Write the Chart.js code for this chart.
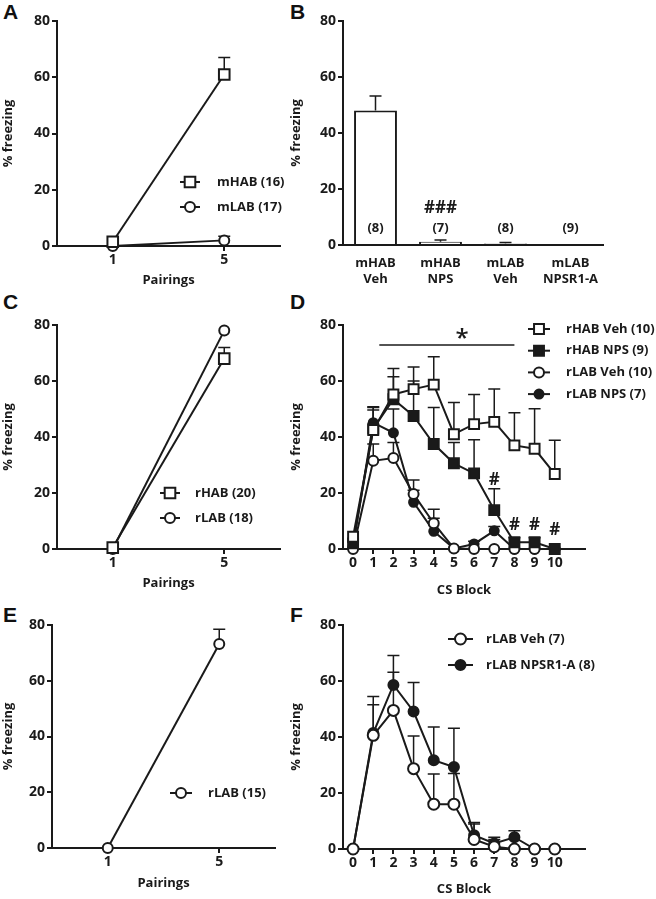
<!DOCTYPE html>
<html>
<head>
<meta charset="utf-8">
<script src="https://cdn.jsdelivr.net/npm/chart.js@4.4.0/dist/chart.umd.min.js"></script>
<style>
body { margin: 0; background: #fff; width: 656px; height: 899px; position: relative; overflow: hidden; }
canvas { position: absolute; }
.letter { position: absolute; font: bold 21px "Liberation Sans", Arial, sans-serif; line-height: 21px; color: #111; }
</style>
</head>
<body>
<div class="letter" style="left:3px;top:1px">A</div>
<div class="letter" style="left:290px;top:1px">B</div>
<div class="letter" style="left:3px;top:291px">C</div>
<div class="letter" style="left:290px;top:291px">D</div>
<div class="letter" style="left:3px;top:604px">E</div>
<div class="letter" style="left:290px;top:604px">F</div>

<canvas id="chartA" width="300" height="290" style="left:0;top:0"></canvas>
<canvas id="chartB" width="368" height="290" style="left:288px;top:0"></canvas>
<canvas id="chartC" width="300" height="310" style="left:0;top:290px"></canvas>
<canvas id="chartD" width="368" height="310" style="left:288px;top:290px"></canvas>
<canvas id="chartE" width="300" height="299" style="left:0;top:600px"></canvas>
<canvas id="chartF" width="368" height="299" style="left:288px;top:600px"></canvas>

<script>
// ---- data (mean % freezing, upper error = mean + SEM) ----
const pairings = [1, 5];
const csBlocks = [0, 1, 2, 3, 4, 5, 6, 7, 8, 9, 10];

// A: mice, conditioning
const aHab = [1.5, 61];
const aHabErr = [null, 67];
const aLab = [0, 2];
const aLabErr = [null, 3.5];

// B: mice, retrieval
const bGroups = [['mHAB', 'Veh'], ['mHAB', 'NPS'], ['mLAB', 'Veh'], ['mLAB', 'NPSR1-A']];
const bMeans = [48, 1.2, 0.5, 0];
const bErr = [53.2, 1.8, 0.9, null];
const bCounts = ['(8)', '(7)', '(8)', '(9)'];
const bSig = ['', '###', '', ''];

// C: rats, conditioning
const cHab = [0.5, 68];
const cHabErr = [null, 72];
const cLab = [0, 78];
const cLabErr = [null, null];

// D: rats, CS blocks
const dHabVeh = [4.4, 42.5, 55.2, 57.1, 58.7, 41, 44.6, 45.4, 37, 35.8, 26.8];
const dHabVehErr = [null, 50.8, 64.5, 65, 68.7, 52.3, 55.2, 57.1, 48.7, 50.1, 38.8];
const dHabNps = [2, 43, 53.5, 47.5, 37.5, 30.6, 27, 13.9, 2.4, 2.4, 0];
const dHabNpsErr = [null, 50.5, 61.5, 60, 50.5, 38, 39, 21.5, 4, 4, null];
const dLabVeh = [0, 31.5, 32.5, 19.6, 9.2, 0.2, 0, 0, 0, 0, 0];
const dLabVehErr = [null, 37.5, 38, 24.6, 14.2, null, null, null, null, null, null];
const dLabNps = [1, 45.1, 41.5, 16.7, 6.3, 0.2, 1.8, 6.5, 0, 0, 0];
const dLabNpsErr = [null, 49.6, 50, 21, 11, null, 2.8, 8, null, null, null];
const dHashBlocks = [7, 8, 9, 10];
const dHashY = [24.5, 8.6, 8.6, 6.8];

// E: rats, conditioning
const eLab = [0, 73.2];
const eLabErr = [null, 78.5];

// F: rats, CS blocks
const fVeh = [0, 40.6, 49.5, 28.7, 16, 16, 3.4, 0.8, 0, 0, 0];
const fVehErr = [null, 51.5, 63.1, 40.4, 26.8, 27, 8.9, 3.4, null, null, null];
const fAnt = [0, 41.4, 58.6, 49.1, 31.7, 29.3, 4.9, 2, 4.2, 0, 0];
const fAntErr = [null, 54.5, 69.1, 59.5, 43.6, 43.1, 9.5, 4.2, 6.5, null, null];

const INK = '#1a1a1a';
const FONT = '"Open Sans"';

// error bars: vertical line up to mean+SEM with a cap
const errorBars = {
  id: 'errorBars',
  beforeDatasetsDraw(chart) {
    const ctx = chart.ctx, ys = chart.scales.y;
    chart.data.datasets.forEach((ds, i) => {
      if (!ds.errUp) return;
      const meta = chart.getDatasetMeta(i);
      ctx.save();
      ctx.strokeStyle = INK;
      ctx.lineWidth = 1.5;
      meta.data.forEach((el, j) => {
        const up = ds.errUp[j];
        if (up == null) return;
        const top = ys.getPixelForValue(up);
        ctx.beginPath();
        ctx.moveTo(el.x, el.y);
        ctx.lineTo(el.x, top);
        ctx.moveTo(el.x - 6, top);
        ctx.lineTo(el.x + 6, top);
        ctx.stroke();
      });
      ctx.restore();
    });
  }
};

// in-plot legend: line + marker + label
const keyBox = {
  id: 'keyBox',
  afterDraw(chart, args, opts) {
    if (!opts || opts.x == null) return;
    const ctx = chart.ctx;
    ctx.save();
    chart.data.datasets.forEach((ds, i) => {
      const y = opts.y + i * opts.rowH;
      ctx.strokeStyle = INK;
      ctx.lineWidth = 2;
      ctx.beginPath();
      ctx.moveTo(opts.x, y);
      ctx.lineTo(opts.x + opts.lineLen, y);
      ctx.stroke();
      ctx.fillStyle = ds.pointBackgroundColor;
      Chart.helpers.drawPoint(ctx, { pointStyle: ds.pointStyle, radius: ds.pointRadius, borderWidth: 2, rotation: 0 },
        opts.x + opts.lineLen / 2, y);
      ctx.fillStyle = INK;
      ctx.font = 'bold 13px ' + FONT;
      ctx.textAlign = 'left';
      ctx.textBaseline = 'middle';
      ctx.fillText(ds.label, opts.x + opts.textOff, y);
    });
    ctx.restore();
  }
};

// text marks placed at data positions (n, significance)
const notes = {
  id: 'notes',
  afterDraw(chart, args, opts) {
    if (!opts || !opts.items) return;
    const ctx = chart.ctx, xs = chart.scales.x, ys = chart.scales.y;
    ctx.save();
    ctx.fillStyle = INK;
    ctx.strokeStyle = INK;
    ctx.textAlign = 'center';
    ctx.textBaseline = 'middle';
    opts.items.forEach(it => {
      if (!it.text) return;
      ctx.font = (it.weight || 'bold') + ' ' + (it.size || 13) + 'px ' + FONT;
      ctx.fillText(it.text, xs.getPixelForValue(it.x), ys.getPixelForValue(it.y));
    });
    if (opts.bar) {
      const b = opts.bar, yy = ys.getPixelForValue(b.y);
      ctx.lineWidth = 1.5;
      ctx.beginPath();
      ctx.moveTo(xs.getPixelForValue(b.x1), yy);
      ctx.lineTo(xs.getPixelForValue(b.x2), yy);
      ctx.stroke();
    }
    ctx.restore();
  }
};

function yAxis(width) {
  return {
    min: 0, max: 80,
    ticks: { stepSize: 20, color: INK, padding: 2, font: { family: FONT, size: 14, weight: 'bold' } },
    grid: { drawOnChartArea: false, drawTicks: true, tickLength: 5, color: INK, lineWidth: 2 },
    border: { color: INK, width: 2 },
    title: { display: true, text: '% freezing', color: INK, padding: { top: 0, bottom: 0 },
      font: { family: FONT, size: 13, weight: 'bold' } },
    afterFit(s) { s.width = width; }
  };
}

function xAxis(values, min, max, title, height, titlePad) {
  return {
    type: 'linear', min: min, max: max,
    afterBuildTicks(s) { s.ticks = values.map(v => ({ value: v })); },
    ticks: { color: INK, padding: 1, font: { family: FONT, size: 14, weight: 'bold' } },
    grid: { drawOnChartArea: false, drawTicks: true, tickLength: 5, color: INK, lineWidth: 2 },
    border: { color: INK, width: 2 },
    title: { display: true, text: title, color: INK, padding: { top: 0, bottom: titlePad },
      font: { family: FONT, size: 13, weight: 'bold' } },
    afterFit(s) { s.height = height; }
  };
}

function series(label, xs, ys, err, style, filled, radius) {
  return {
    label: label,
    data: xs.map((x, i) => ({ x: x, y: ys[i] })),
    errUp: err,
    borderColor: INK,
    borderWidth: 2,
    tension: 0,
    pointStyle: style,
    pointRadius: radius,
    pointBorderWidth: 2,
    pointBorderColor: INK,
    pointBackgroundColor: filled ? INK : '#fff',
    clip: false
  };
}

function baseOptions(pad, scales, plugins) {
  return {
    responsive: false,
    animation: false,
    layout: { padding: pad },
    scales: scales,
    plugins: Object.assign({ legend: { display: false }, tooltip: { enabled: false } }, plugins)
  };
}

const allPlugins = [errorBars, keyBox, notes];

// A
new Chart(document.getElementById('chartA'), {
  type: 'line',
  data: { datasets: [
    series('mHAB (16)', pairings, aHab, aHabErr, 'rect', false, 7.5),
    series('mLAB (17)', pairings, aLab, aLabErr, 'circle', false, 5)
  ] },
  options: baseOptions({ top: 21, right: 20, left: 0, bottom: 0 },
    { x: xAxis(pairings, -1, 7, 'Pairings', 44, 2), y: yAxis(57) },
    { keyBox: { x: 180, y: 182, lineLen: 20, textOff: 37, rowH: 25 } }),
  plugins: allPlugins
});

// B
new Chart(document.getElementById('chartB'), {
  type: 'bar',
  data: {
    labels: bGroups,
    datasets: [{
      data: bMeans, errUp: bErr,
      backgroundColor: '#fff', borderColor: INK, borderWidth: 2,
      barPercentage: 0.66, categoryPercentage: 1
    }]
  },
  options: baseOptions({ top: 21, right: 53, left: 0, bottom: 0 }, {
    x: {
      offset: true,
      ticks: { color: INK, padding: 10, font: { family: FONT, size: 13, weight: 'bold', lineHeight: 1.25 } },
      grid: { drawOnChartArea: false, drawTicks: false },
      border: { color: INK, width: 2 },
      afterFit(s) { s.height = 45; }
    },
    y: yAxis(55)
  }, {
    notes: { items: bCounts.map((t, i) => ({ x: i, y: 6, text: t }))
      .concat(bSig.map((t, i) => ({ x: i, y: 13, text: t, size: 17 }))) }
  }),
  plugins: allPlugins
});

// C
new Chart(document.getElementById('chartC'), {
  type: 'line',
  data: { datasets: [
    series('rHAB (20)', pairings, cHab, cHabErr, 'rect', false, 7.5),
    series('rLAB (18)', pairings, cLab, cLabErr, 'circle', false, 5)
  ] },
  options: baseOptions({ top: 35, right: 20, left: 0, bottom: 0 },
    { x: xAxis(pairings, -1, 7, 'Pairings', 51, 9), y: yAxis(57) },
    { keyBox: { x: 160, y: 203, lineLen: 20, textOff: 35, rowH: 25 } }),
  plugins: allPlugins
});

// D
new Chart(document.getElementById('chartD'), {
  type: 'line',
  data: { datasets: [
    series('rHAB Veh (10)', csBlocks, dHabVeh, dHabVehErr, 'rect', false, 7),
    series('rHAB NPS (9)', csBlocks, dHabNps, dHabNpsErr, 'rect', true, 7),
    series('rLAB Veh (10)', csBlocks, dLabVeh, dLabVehErr, 'circle', false, 5),
    series('rLAB NPS (7)', csBlocks, dLabNps, dLabNpsErr, 'circle', true, 4.5)
  ] },
  options: baseOptions({ top: 35, right: 71, left: 0, bottom: 0 },
    { x: xAxis(csBlocks, -0.5, 11.5, 'CS Block', 51, 2), y: yAxis(55) },
    {
      keyBox: { x: 240, y: 39, lineLen: 22, textOff: 38, rowH: 21.7 },
      notes: {
        items: [{ x: 5.4, y: 75, text: '*', size: 24, weight: '600' }]
          .concat(dHashBlocks.map((b, i) => ({ x: b, y: dHashY[i], text: '#', size: 17 }))),
        bar: { x1: 1.3, x2: 8, y: 72.9 }
      }
    }),
  plugins: allPlugins
});

// E
new Chart(document.getElementById('chartE'), {
  type: 'line',
  data: { datasets: [
    series('rLAB (15)', pairings, eLab, eLabErr, 'circle', false, 5)
  ] },
  options: baseOptions({ top: 25, right: 25, left: 0, bottom: 0 },
    { x: xAxis(pairings, -1, 7, 'Pairings', 51, 8), y: yAxis(52) },
    { keyBox: { x: 170, y: 193, lineLen: 22, textOff: 38, rowH: 25 } }),
  plugins: allPlugins
});

// F
new Chart(document.getElementById('chartF'), {
  type: 'line',
  data: { datasets: [
    series('rLAB Veh (7)', csBlocks, fVeh, fVehErr, 'circle', false, 5.5),
    series('rLAB NPSR1-A (8)', csBlocks, fAnt, fAntErr, 'circle', true, 5)
  ] },
  options: baseOptions({ top: 25, right: 71, left: 0, bottom: 0 },
    { x: xAxis(csBlocks, -0.5, 11.5, 'CS Block', 50, 2), y: yAxis(55) },
    { keyBox: { x: 160, y: 39, lineLen: 25, textOff: 38, rowH: 26 } }),
  plugins: allPlugins
});
</script>
</body>
</html>
